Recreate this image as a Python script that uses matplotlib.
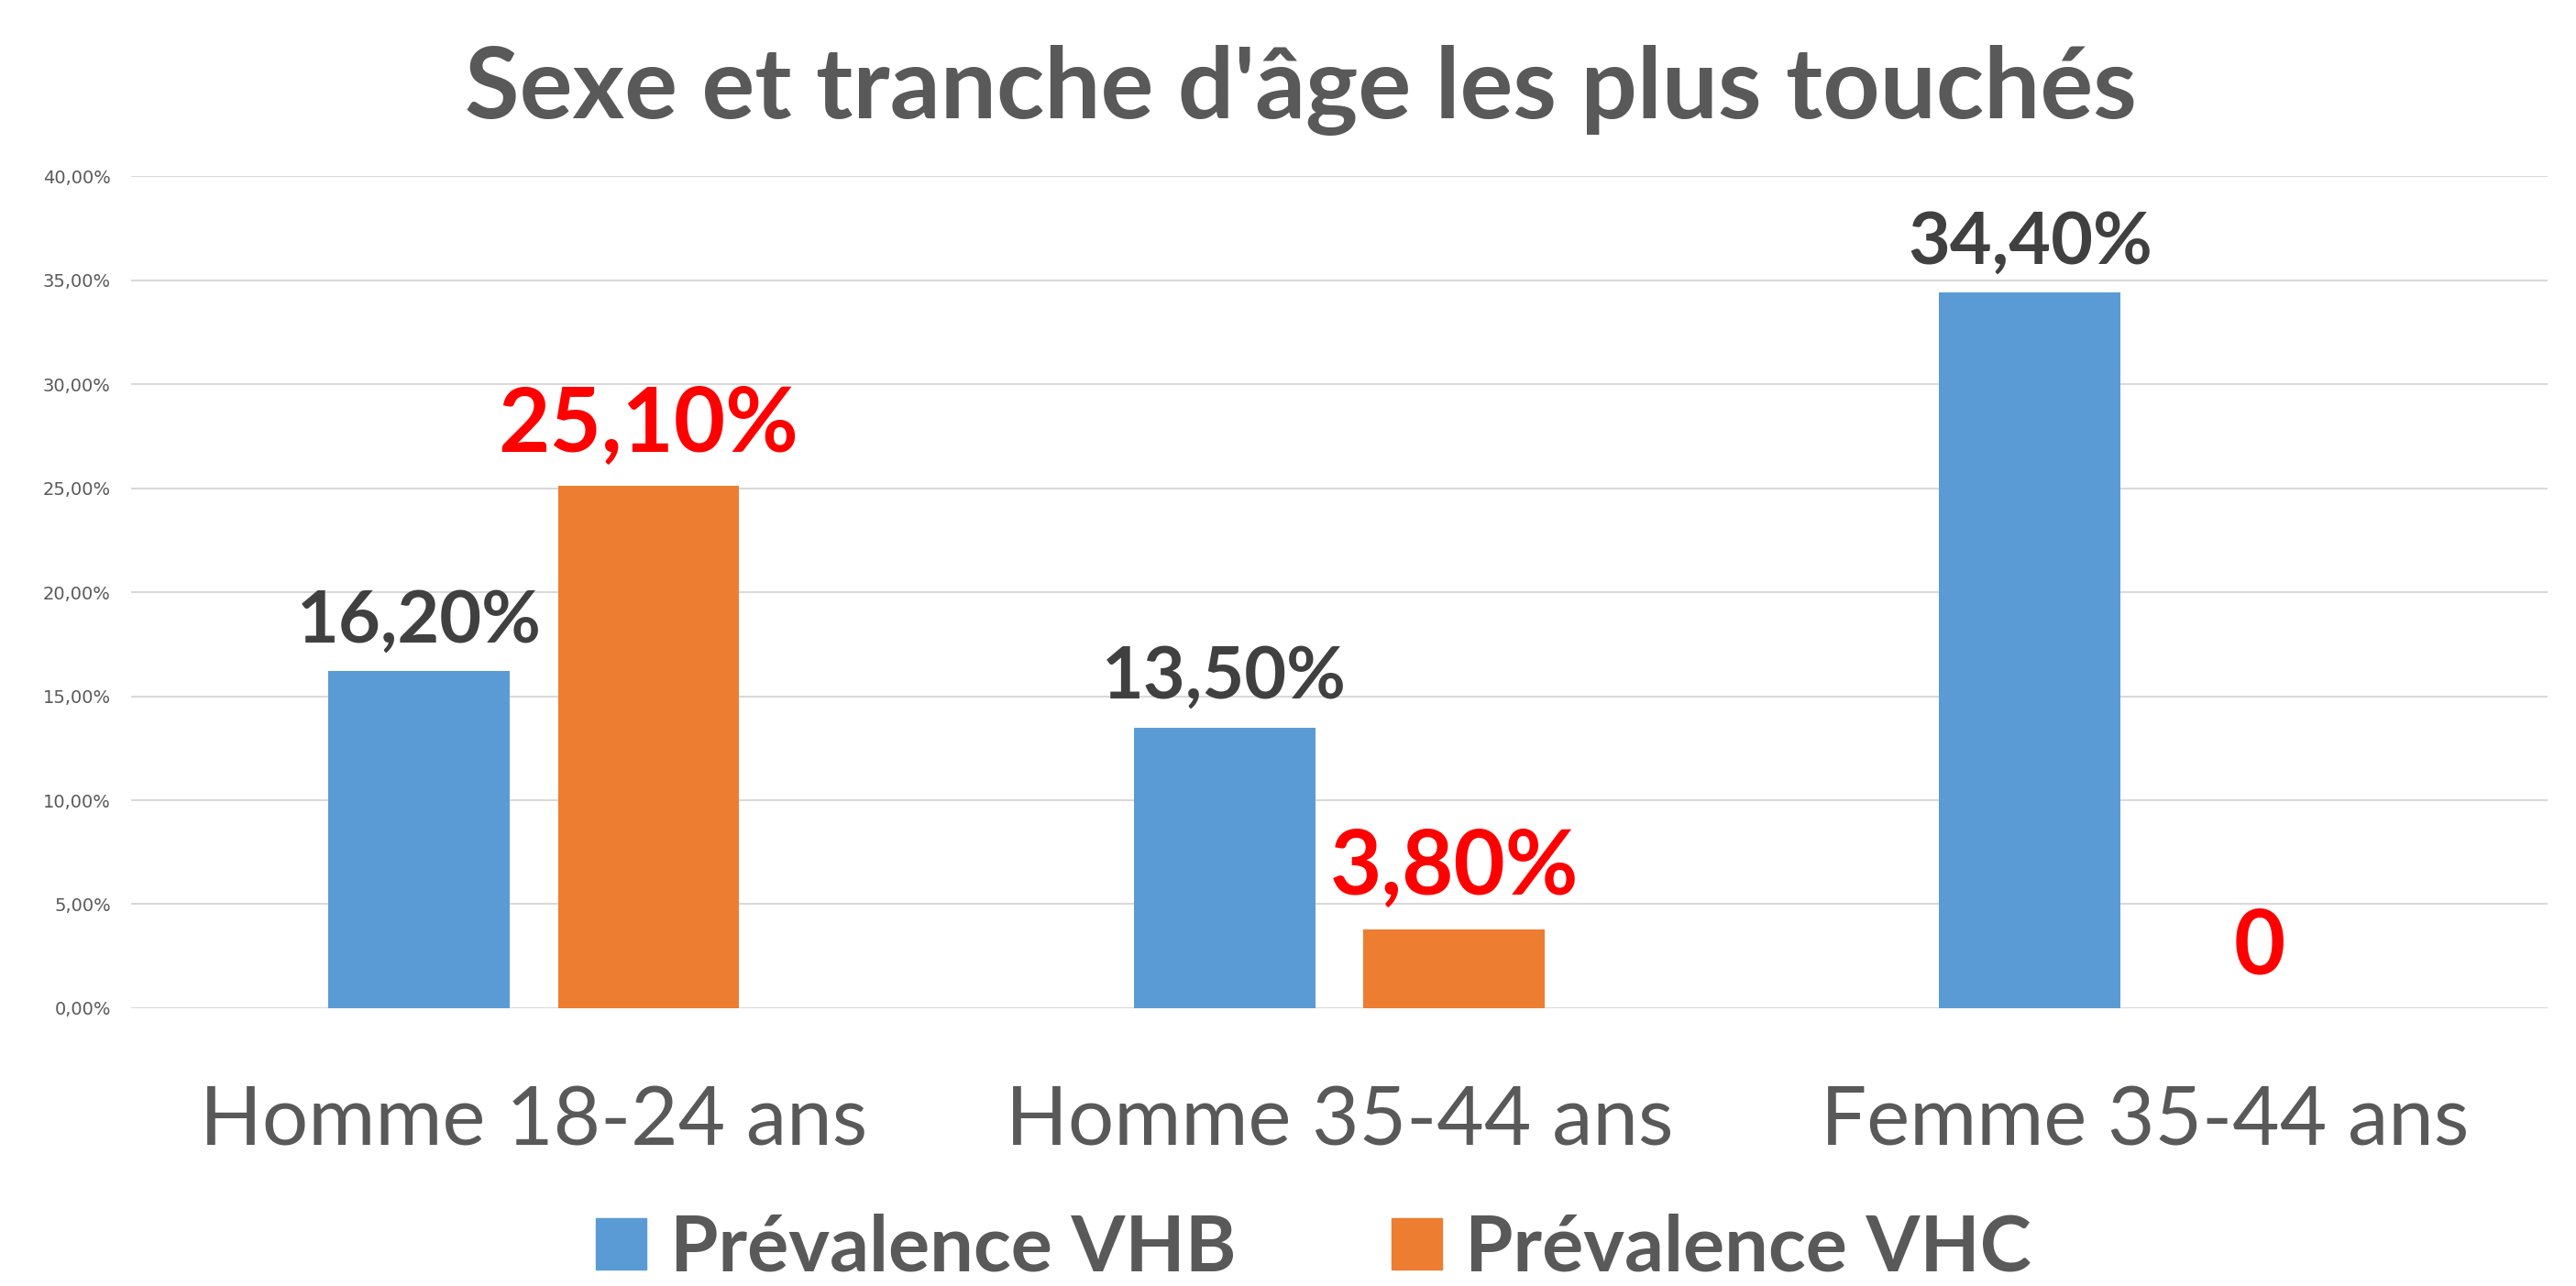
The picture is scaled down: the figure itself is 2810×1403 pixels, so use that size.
import matplotlib.pyplot as plt
from matplotlib.patches import Patch

categories = ['Homme 18-24 ans', 'Homme 35-44 ans', 'Femme 35-44 ans']
vhb = [16.2, 13.5, 34.4]
vhc = [25.1, 3.8, 0.0]
vhb_labels = ['16,20%', '13,50%', '34,40%']
vhc_labels = ['25,10%', '3,80%', '0']
yticks = [0, 5, 10, 15, 20, 25, 30, 35, 40]

kBlue = '#5B9BD5'
kOrange = '#ED7D31'
kRed = '#FF0000'
kDark = '#404040'
kGrey = '#595959'
kFont = 'Lato'

fig = plt.figure(figsize=(28.1, 14.03), dpi=100)
ax = fig.add_axes([0.0509, 0.216, 0.938, 0.647])

width = 0.225
offset = 0.1425
x = list(range(len(categories)))
ax.bar([i - offset for i in x], [v / 100 for v in vhb], width, color=kBlue, zorder=3)
ax.bar([i + offset for i in x], [v / 100 for v in vhc], width, color=kOrange, zorder=3)

# data labels
for i in x:
    ax.annotate(vhb_labels[i], (i - offset, vhb[i] / 100), xytext=(0, 23),
                textcoords='offset points', ha='center', va='baseline',
                fontsize=57, fontweight='bold', color=kDark, family=kFont)
    ax.annotate(vhc_labels[i], (i + offset, vhc[i] / 100), xytext=(0, 27),
                textcoords='offset points', ha='center', va='baseline',
                fontsize=70, fontweight='bold', color=kRed, family=kFont)

ax.set_xlim(-0.5, 2.5)
ax.set_ylim(0, 0.4)
ax.set_yticks([t / 100 for t in yticks])
ax.set_yticklabels(['{:.2f}%'.format(t).replace('.', ',') for t in yticks],
                   fontsize=14, color=kGrey)
ax.set_xticks(x)
ax.set_xticklabels(categories, fontsize=64, color=kGrey, family=kFont)
ax.tick_params(axis='y', length=0, pad=16)
ax.tick_params(axis='x', length=0, pad=60)
ax.grid(axis='y', color='#D9D9D9', linewidth=1.5, zorder=0)
for s in ax.spines.values():
    s.set_visible(False)

fig.text(0.505, 0.908, "Sexe et tranche d'âge les plus touchés", ha='center',
         va='baseline', fontsize=78, fontweight='bold', color=kGrey, family=kFont)

handles = [Patch(color=kBlue, label='Prévalence VHB'),
           Patch(color=kOrange, label='Prévalence VHC')]
fig.legend(handles=handles, loc='center', bbox_to_anchor=(0.51, 0.029), ncol=2,
           frameon=False, prop={'family': kFont, 'weight': 'bold', 'size': 61},
           labelcolor=kGrey, handlelength=0.65, handleheight=0.65,
           handletextpad=0.3, columnspacing=2.0)

fig.savefig('out.png', dpi=100)
